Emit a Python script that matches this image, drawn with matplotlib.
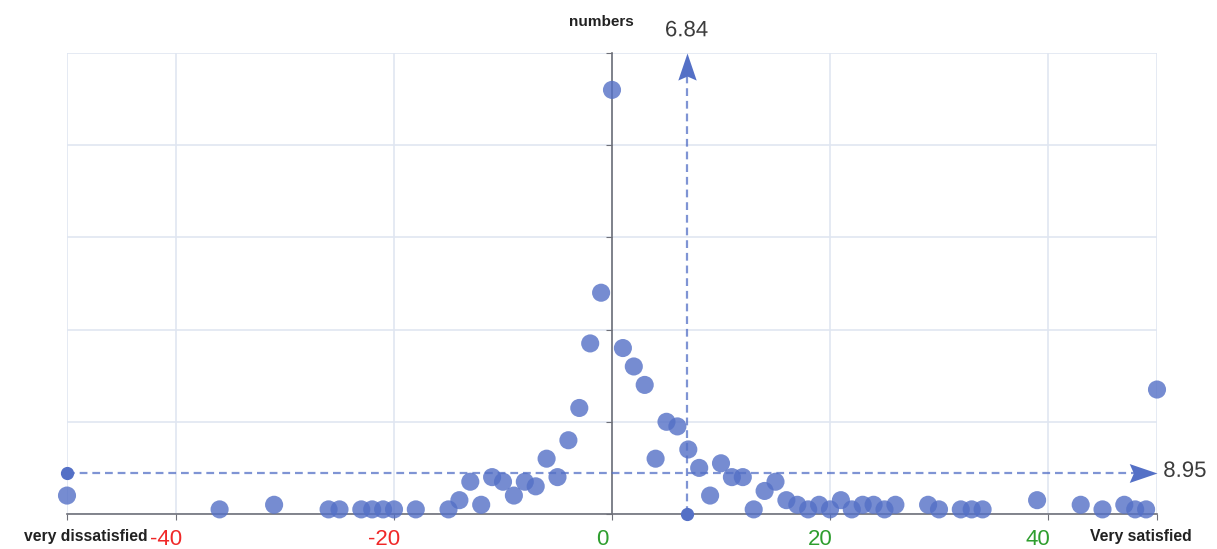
import numpy as np
import matplotlib
matplotlib.use("Agg")
import matplotlib.pyplot as plt
from matplotlib.path import Path
from matplotlib.transforms import ScaledTranslation
import matplotlib.patheffects as pe

# ---------------- data ----------------
x_values = [-50, -36, -31, -26, -25, -23, -22, -21, -20, -18, -15, -14, -13, -12, -11,
            -10, -9, -8, -7, -6, -5, -4, -3, -2, -1, 0,
            1, 2, 3, 4, 5, 6, 7, 8, 9, 10, 11, 12, 13, 14, 15, 16, 17, 18, 19, 20,
            21, 22, 23, 24, 25, 26, 29, 30, 32, 33, 34, 39, 43, 45, 47, 48, 49, 50]
y_values = [4, 1, 2, 1, 1, 1, 1, 1, 1, 1, 1, 3, 7, 2, 8,
            7, 4, 7, 6, 12, 8, 16, 23, 37, 48, 92,
            36, 32, 28, 12, 20, 19, 14, 10, 4, 11, 8, 8, 1, 5, 7, 3, 2, 1, 2, 1,
            3, 1, 2, 2, 1, 2, 2, 1, 1, 1, 1, 3, 2, 1, 2, 1, 1, 27]
x_ticks = [-50, -40, -20, 0, 20, 40, 50]
x_tick_labels = ["", "-40", "-20", "0", "20", "40", ""]
x_tick_colors = ["#f02828", "#f02828", "#f02828", "#2e9e2e", "#2e9e2e", "#2e9e2e", "#2e9e2e"]
y_ticks = [0, 20, 40, 60, 80, 100]
left_label = "very dissatisfied"
right_label = "Very satisfied"
y_axis_name = "numbers"

mean_x = round(float(np.mean(x_values)), 2)
mean_y = round(float(np.mean(y_values)), 2)

# ---------------- figure ----------------
W, H = 1217, 549
fig = plt.figure(figsize=(W / 100, H / 100), dpi=100)
ax = fig.add_axes([67 / W, 1 - 514 / H, (1157 - 67) / W, (514 - 53) / H])
ax.set_xlim(-50, 50)
ax.set_ylim(0, 100)

blue = "#5470c6"
axis_col = "#6e7079"
grid_col = "#e0e6f1"

ax.set_xticks(x_ticks)
ax.set_yticks(y_ticks)
ax.grid(True, color=grid_col, linewidth=1.2, zorder=0)
ax.set_axisbelow(True)

for s in ["top", "right"]:
    ax.spines[s].set_visible(False)
ax.spines["left"].set_position(("data", 0))
ax.spines["left"].set_color(axis_col)
ax.spines["bottom"].set_color(axis_col)
ax.spines["left"].set_linewidth(1.2)
ax.spines["bottom"].set_linewidth(1.2)
ax.spines["left"].set_zorder(1.5)

ax.tick_params(axis="y", direction="out", length=4, color=axis_col, labelleft=False)
ax.tick_params(axis="x", direction="out", length=4, color=axis_col, pad=7)

ax.set_xticklabels(x_tick_labels, fontsize=16, fontfamily="Liberation Sans")
offset = ScaledTranslation(-10 / 100, 0, fig.dpi_scale_trans)
for lab, col in zip(ax.get_xticklabels(), x_tick_colors):
    lab.set_color(col)
    lab.set_transform(lab.get_transform() + offset)

# scatter points
ax.scatter(x_values, y_values, s=170, color=blue, alpha=0.8, edgecolors="none",
           zorder=3, clip_on=False)

# mark lines
dash_kw = dict(color=blue, alpha=0.75, linewidth=1.6, linestyle=(0, (3.5, 2.2)), zorder=4,
               clip_on=False)
ax.plot([-50, 48.6], [mean_y, mean_y], **dash_kw)
ax.plot([mean_x, mean_x], [0, 97.5], **dash_kw)

ax.plot([-50], [mean_y], "o", color=blue, markersize=8.5, zorder=5, clip_on=False)
ax.plot([mean_x], [0], "o", color=blue, markersize=8.5, zorder=5, clip_on=False)

up_arrow = Path([(0, 0), (-0.34, -1), (0, -0.85), (0.34, -1), (0, 0)],
                [Path.MOVETO, Path.LINETO, Path.LINETO, Path.LINETO, Path.CLOSEPOLY])
right_arrow = Path([(0, 0), (-1, 0.34), (-0.85, 0), (-1, -0.34), (0, 0)],
                   [Path.MOVETO, Path.LINETO, Path.LINETO, Path.LINETO, Path.CLOSEPOLY])
ax.plot([mean_x], [100], marker=up_arrow, markersize=39, color=blue, markeredgewidth=0,
        zorder=6, clip_on=False)
ax.plot([50], [mean_y], marker=right_arrow, markersize=40, color=blue, markeredgewidth=0,
        zorder=6, clip_on=False)

stroke = [pe.withStroke(linewidth=2.5, foreground="white")]
ax.annotate(f"{mean_x:.2f}", xy=(mean_x, 100), xytext=(0, 16), textcoords="offset points",
            ha="center", va="center", fontsize=16, color="#3c3c3c",
            fontfamily="Liberation Sans", path_effects=stroke, annotation_clip=False)
ax.annotate(f"{mean_y:.2f}", xy=(50, mean_y), xytext=(4.5, 1), textcoords="offset points",
            ha="left", va="center", fontsize=16, color="#3c3c3c",
            fontfamily="Liberation Sans", path_effects=stroke, annotation_clip=False)

# axis names / end labels
fig.text(601 / W, 1 - 22 / H, y_axis_name, ha="center", va="center", fontsize=11,
         fontweight="bold", fontfamily="Liberation Sans", color="#222222")
fig.text(148 / W, 1 - 537 / H, left_label, ha="right", va="center", fontsize=11.3,
         fontweight="bold", fontfamily="Liberation Sans", color="#222222")
fig.text(1141 / W, 1 - 537 / H, right_label, ha="center", va="center", fontsize=11.3,
         fontweight="bold", fontfamily="Liberation Sans", color="#222222")

fig.savefig("out.png", dpi=100)
